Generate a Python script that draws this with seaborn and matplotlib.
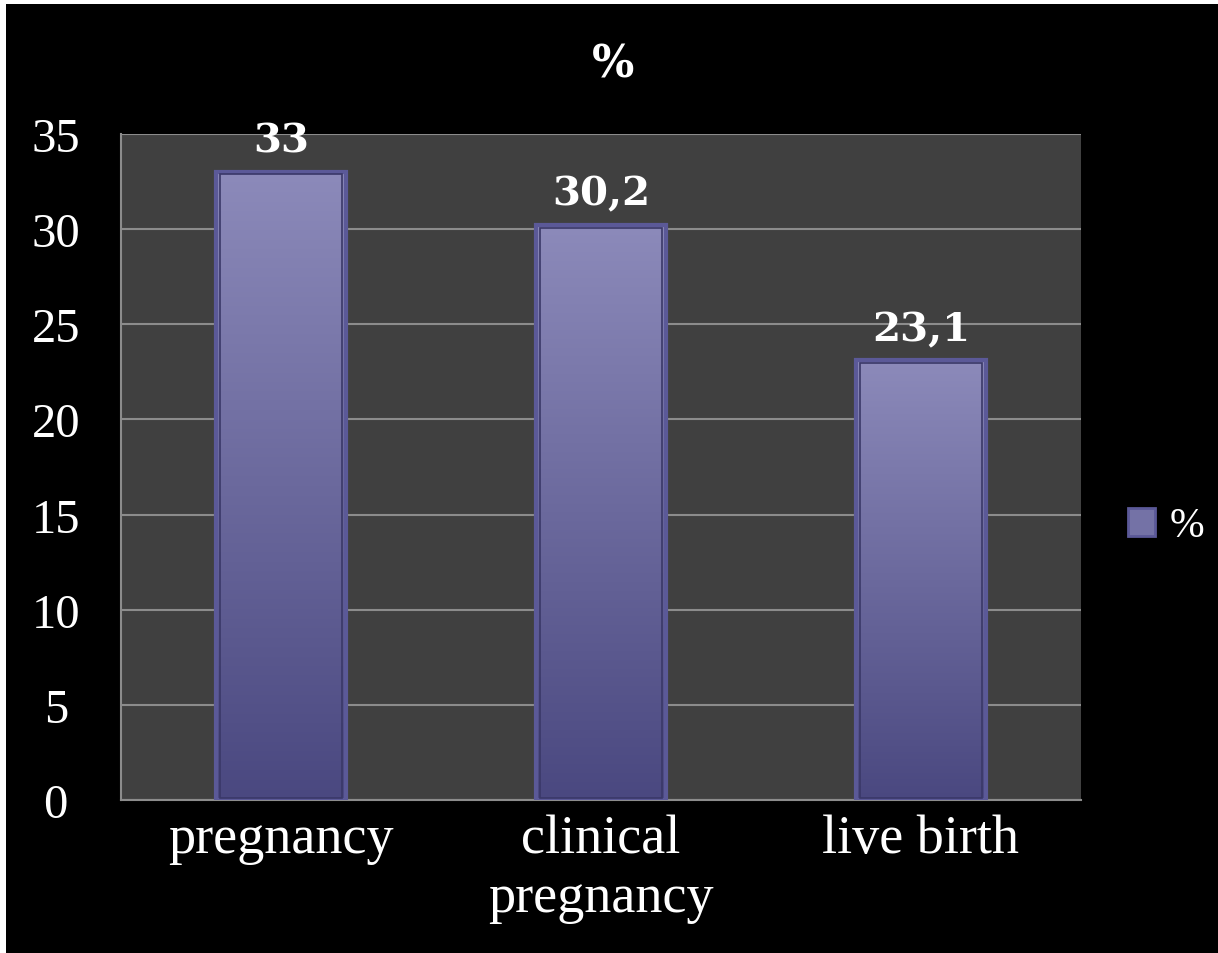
import matplotlib
matplotlib.use("Agg")
import matplotlib.pyplot as plt
import numpy as np
import pandas as pd
import seaborn as sns
from matplotlib.colors import LinearSegmentedColormap
from matplotlib.patches import Patch, Rectangle

# Datos del gráfico
CATEGORIES = ["pregnancy", "clinical\npregnancy", "live birth"]
VALUES = [33.0, 30.2, 23.1]
VALUE_LABELS = ["33", "30,2", "23,1"]
SERIES_NAME = "%"
Y_TICKS = [0, 5, 10, 15, 20, 25, 30, 35]

sns.set_style("dark")
plt.rcParams["font.family"] = ["Liberation Serif", "DejaVu Serif"]

df = pd.DataFrame({"cat": CATEGORIES, "val": VALUES})

fig = plt.figure(figsize=(12.18, 9.54), dpi=100, facecolor="white")
# fondo negro con una franja blanca arriba y a la izquierda
fig.patches.append(Rectangle((6 / 1218, 0), 1, 1 - 5 / 954, transform=fig.transFigure,
                             facecolor="black", edgecolor="none", zorder=-10))
ax = fig.add_axes([121 / 1218, 1 - 801 / 954, 960 / 1218, 666 / 954])
ax.set_facecolor("#404040")

sns.barplot(data=df, x="cat", y="val", color="#6e6ca2", width=0.405,
            edgecolor="#5b5998", linewidth=3, ax=ax, zorder=3)

# degradado vertical en las barras
cmap = LinearSegmentedColormap.from_list("bar", ["#4a4880", "#8c8aba"])
grad = np.linspace(1, 0, 256).reshape(-1, 1)
for bar in ax.patches:
    x0, y0 = bar.get_x(), bar.get_y()
    w, h = bar.get_width(), bar.get_height()
    im = ax.imshow(grad, extent=[x0, x0 + w, y0, y0 + h], aspect="auto",
                   cmap=cmap, vmin=0, vmax=1, zorder=2.5)
    im.set_clip_path(bar)
    bar.set_facecolor("none")
    inner = Rectangle((x0 + 0.012, y0 + 0.12), w - 0.024, h - 0.24, fill=False,
                      edgecolor="#3a3868", linewidth=1.2, zorder=3.5)
    ax.add_patch(inner)

for i, (v, lab) in enumerate(zip(VALUES, VALUE_LABELS)):
    ax.annotate(lab, (i, v), xytext=(0, 9), textcoords="offset points",
                ha="center", va="bottom", color="white", fontsize=29,
                fontweight="bold", family="DejaVu Serif", zorder=5)

ax.set_xlim(-0.5, 2.5)
ax.set_ylim(0, 35)
ax.set_yticks(Y_TICKS)
ax.set_yticklabels([str(t) for t in Y_TICKS])
ax.yaxis.grid(True, color="#8c8c8c", linewidth=1.5, zorder=0)
ax.xaxis.grid(False)
ax.set_axisbelow(True)
for side in ["top", "right"]:
    ax.spines[side].set_visible(False)
for side in ["left", "bottom"]:
    ax.spines[side].set_visible(True)
    ax.spines[side].set_color("#8c8c8c")
    ax.spines[side].set_linewidth(1.5)

ax.tick_params(axis="y", colors="white", labelsize=35, length=0, pad=47)
ax.tick_params(axis="x", colors="white", labelsize=39, length=0, pad=10)
for t in ax.get_yticklabels():
    t.set_horizontalalignment("center")
ax.set_xlabel("")
ax.set_ylabel("")

fig.text(0.503, 1 - 65 / 954, "%", ha="center", va="center", color="white",
         fontsize=32, fontweight="bold", family="DejaVu Serif")

handle = Patch(facecolor="#7472a6", edgecolor="#5b5998", linewidth=2)
leg = fig.legend([handle], [SERIES_NAME], loc="center left",
                 bbox_to_anchor=(1128 / 1218, 1 - 527 / 954), frameon=False,
                 fontsize=30, handlelength=0.65, handleheight=0.65, handletextpad=0.35,
                 borderpad=0, borderaxespad=0)
for txt in leg.get_texts():
    txt.set_color("white")

fig.savefig("out.png", dpi=100, facecolor=fig.get_facecolor())
